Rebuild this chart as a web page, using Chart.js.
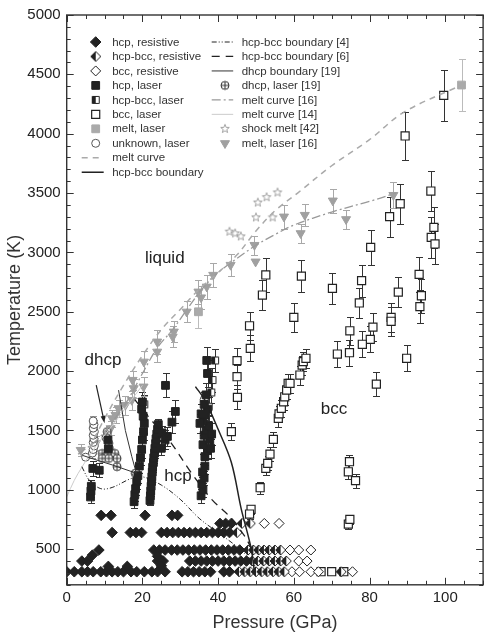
<!DOCTYPE html>
<html>
<head>
<meta charset="utf-8">
<script src="https://cdn.jsdelivr.net/npm/chart.js@4.4.1/dist/chart.umd.min.js"></script>
<style>
  html, body { margin: 0; padding: 0; background: #fff; }
  canvas { display: block; }
</style>
</head>
<body>
<canvas id="chart" width="490" height="634"></canvas>
<script>
// pressure in GPa, temperature in K
const xTicks = [0, 20, 40, 60, 80, 100];
const yTicks = [500, 1000, 1500, 2000, 2500, 3000, 3500, 4000, 4500, 5000];

// resistive heating runs sit on fixed temperature rows
const resRowT = [310, 400, 493, 640, 717, 785];
const hcpResRows = [
  [0, 2, 4, 5.5, 7, 9, 10.5, 12, 13.5, 15, 17, 18.5, 20.5, 22.5, 24, 26, 30.5, 32, 33.5, 35, 36.5, 38, 41.5, 43],
  [4, 5.5, 24, 25.5, 32.5, 34, 35.5, 37, 38.5, 40, 41.5, 43, 44.5, 46, 47.5],
  [8.5, 23, 24.5, 26, 27.7, 29.2, 30.7, 32.2, 33.7, 35.2, 36.7, 38.2, 39.7, 41.2, 42.7, 44.2, 45.7],
  [12, 16.8, 18.3, 19.8, 25, 26.5, 28, 29.5, 31, 32.5, 34, 35.5, 37, 38.5, 40, 41.5, 43],
  [40.5, 42, 43.5],
  [9.1, 11.7, 20.7, 27.8, 29.3]
];
const hcpResExtra = [[11, 355], [16, 355], [25, 360], [24, 440], [6.8, 450]];
const mixResRows = [
  [45.5, 47, 48.5, 50, 51.5, 53, 54.5, 56, 57.5, 72.5],
  [49, 50.5, 52, 53.5, 55, 56.5, 58],
  [47.9, 49.3, 50.7, 52.1, 53.5, 55, 56.5],
  [45],
  [46.3, 48.5],
  []
];
const bccResRows = [
  [59.5, 61.5, 64.5, 66.5, 75.5],
  [61.3, 63.5],
  [59, 61.3, 64.5],
  [],
  [52.2, 56.1],
  []
];

// laser heating runs: [P, T, error]
const hcpLaser = [
  [6.3, 940, 50], [6.4, 990, 50], [6.5, 1030, 50], [6.9, 1180, 60], [8.6, 1165, 60], [10.9, 1420, 80], [11.0, 1345, 70],
  [17.8, 900, 50], [18.0, 960, 50], [18.2, 1010, 50], [18.5, 1070, 60], [18.8, 1120, 60], [19.2, 1200, 60], [19.5, 1270, 60],
  [19.8, 1340, 70], [20.0, 1420, 70], [20.3, 1490, 70], [20.5, 1560, 80], [20.2, 1620, 80], [19.8, 1680, 80], [20.0, 1740, 80],
  [26.1, 1880, 100],
  [22.0, 910, 40], [22.1, 950, 40], [22.2, 990, 40], [22.3, 1030, 40], [22.4, 1070, 40], [22.5, 1110, 40], [22.6, 1150, 40],
  [22.7, 1190, 40], [22.9, 1230, 40], [23.0, 1270, 40], [23.2, 1310, 40], [23.3, 1350, 40], [23.5, 1390, 50], [23.6, 1430, 50],
  [23.8, 1470, 50], [24.0, 1510, 50], [24.2, 1550, 50],
  [25.2, 1480, 60], [26.0, 1420, 80], [26.6, 1450, 80], [27.8, 1570, 90], [28.7, 1660, 100], [25.0, 1350, 60],
  [35.5, 950, 60], [36.0, 1000, 60], [35.7, 1050, 60], [36.3, 1100, 60], [35.9, 1150, 70], [36.5, 1200, 70],
  [36.5, 1280, 70], [37.2, 1330, 70], [36.0, 1380, 80], [37.8, 1420, 80], [36.3, 1460, 80], [36.8, 1500, 90], [37.5, 1540, 90],
  [36.0, 1580, 90], [36.5, 1630, 90], [37.2, 1680, 100], [36.3, 1720, 100], [36.8, 1800, 100], [37.2, 1980, 110], [37.0, 2090, 110],
  [38.0, 1350, 80], [38.3, 1470, 90], [35.2, 1560, 80], [35.5, 1640, 80]
];
const mixLaser = [[39.2, 2090, 100], [38.5, 1925, 100], [38.2, 1820, 90], [20.5, 1720, 80], [37.5, 1700, 80]];
const bccLaser = [
  [62.0, 2800, 135], [60.0, 2453, 120], [70.2, 2697, 130], [80.3, 3043, 150], [77.9, 2762, 135], [77.3, 2574, 130],
  [85.3, 3301, 170], [88.1, 3410, 170], [96.2, 3517, 170], [97.0, 3211, 170], [96.3, 3127, 170], [97.3, 3071, 170],
  [93.1, 2815, 145], [93.7, 2635, 145], [93.3, 2543, 140], [87.6, 2666, 130], [85.7, 2453, 120], [85.7, 2420, 120],
  [80.9, 2371, 120], [80.2, 2268, 110], [78.1, 2226, 110], [74.8, 2340, 120], [74.7, 2155, 110], [71.5, 2144, 110],
  [89.8, 2108, 110], [81.8, 1891, 100], [89.4, 3981, 200], [99.6, 4323, 215],
  [52.6, 2810, 140], [51.7, 2641, 130], [48.3, 2382, 120], [48.5, 2192, 110], [45.0, 2088, 110], [45.0, 1953, 100],
  [45.1, 1779, 100], [43.5, 1490, 70],
  [51.1, 1018, 50], [52.6, 1181, 60], [53.1, 1223, 60], [53.7, 1301, 60], [54.6, 1425, 60], [55.9, 1602, 70],
  [56.1, 1640, 70], [56.7, 1687, 70], [57.3, 1742, 70], [57.6, 1784, 70], [58.1, 1841, 80], [58.5, 1897, 80],
  [59.0, 1897, 80], [61.6, 1967, 80], [62.2, 2051, 80], [62.5, 2080, 80], [63.2, 2108, 80],
  [48.7, 836, 40], [48.3, 796, 40], [74.4, 712, 40], [74.8, 751, 40], [74.4, 1152, 60], [74.7, 1237, 60], [76.3, 1077, 60],
  [67.2, 310, 0], [70.0, 310, 0], [73.2, 310, 0]
];
const meltLaser = [[34.8, 2500, 135], [104.3, 4410, 222]];
const unknownLaser = [
  [6.8, 1310, 40], [7.0, 1340, 40], [7.3, 1370, 40], [7.0, 1400, 40], [7.2, 1430, 40], [7.0, 1460, 40],
  [7.3, 1490, 40], [7.0, 1520, 40], [7.2, 1550, 40], [7.0, 1580, 40], [5.0, 1275, 0], [18.3, 1140, 0], [36.3, 1760, 0]
];
const meltLaser16 = [
  [3.7, 1335, 50], [7.7, 1392, 60], [11.6, 1518, 60], [12.0, 1602, 70], [12.9, 1630, 70], [13.7, 1687, 70],
  [15.5, 1714, 80], [17.2, 1756, 80], [17.7, 1855, 80], [17.4, 1925, 80], [20.3, 1869, 80], [20.4, 2079, 90],
  [23.9, 2163, 90], [23.9, 2248, 100], [28.0, 2290, 90], [28.3, 2332, 90], [31.7, 2500, 90], [34.8, 2669, 100],
  [35.5, 2620, 100], [37.0, 2711, 100], [38.7, 2810, 100], [43.3, 2894, 90], [49.6, 3062, 80], [49.9, 2922, 0],
  [57.4, 3301, 100], [61.8, 3161, 80], [62.9, 3315, 90], [70.3, 3436, 100], [73.8, 3279, 80], [86.3, 3483, 110]
];
const dhcpLaser = [
  [10.7, 1490], [10.4, 1440], [11.1, 1392], [11.3, 1345], [9.4, 1307], [10.8, 1307], [12.7, 1307],
  [13.3, 1265], [9.4, 1265], [11.1, 1265], [13.3, 1195], [18.1, 1139]
];
const shockMelt = [[43.0, 3175], [44.5, 3160], [46.0, 3135], [50.0, 3295], [54.4, 3295], [50.5, 3420], [52.8, 3465], [55.7, 3505]];

// curves
const meltCurveP = [6, 10, 15, 20, 25, 30, 35, 40, 45, 50, 55, 61, 70, 80, 89, 104.3];
const meltCurveT = [1350, 1600, 1880, 2130, 2350, 2520, 2690, 2830, 2980, 3180, 3350, 3500, 3730, 3950, 4180, 4410];
const melt16P = [3, 8, 12, 16, 20, 24, 28, 32, 36, 40, 45, 50, 55, 60, 70, 80, 87];
const melt16T = [1300, 1420, 1570, 1750, 1980, 2200, 2350, 2530, 2700, 2830, 2950, 3060, 3150, 3230, 3340, 3430, 3500];
const melt14P = [0, 2, 4, 6, 8, 10, 13, 16, 20];
const melt14T = [940, 1080, 1190, 1290, 1380, 1460, 1580, 1710, 1880];
const hcpBccP = [34, 36.5, 40, 43.5, 46.1, 48.7, 49.6];
const hcpBccT = [1870, 1756, 1510, 1230, 840, 510, 310];
const hcpBcc4P = [4, 6, 9, 12, 17, 20, 25, 30, 35, 40, 45, 49, 50];
const hcpBcc4T = [1195, 1080, 1010, 1020, 1095, 1110, 1040, 920, 760, 640, 520, 400, 340];
const hcpBcc6P = [18, 22, 27, 33, 38.3, 43.5, 47, 48.6];
const hcpBcc6T = [1760, 1600, 1420, 1140, 920, 760, 610, 520];
const dhcpBoundP = [13.7, 15.5, 17.2, 18.4, 12, 8, 4.2];
const dhcpBoundT = [1840, 1500, 1280, 1140, 1210, 1250, 1290];

// phase labels and the arrow under "dhcp"
const regionText = ['liquid', 'dhcp', 'hcp', 'bcc'];
const regionP = [25.9, 9.6, 29.4, 70.6];
const regionT = [2953, 2090, 1116, 1680];
const arrowP = [7.8, 10.0];
const arrowT = [1883, 1560];

const legendCol1 = ['hcp, resistive', 'hcp-bcc, resistive', 'bcc, resistive', 'hcp, laser', 'hcp-bcc, laser',
  'bcc, laser', 'melt, laser', 'unknown, laser', 'melt curve', 'hcp-bcc boundary'];
const legendCol2 = ['hcp-bcc boundary [4]', 'hcp-bcc boundary [6]', 'dhcp boundary [19]', 'dhcp, laser [19]',
  'melt curve [16]', 'melt curve [14]', 'shock melt [42]', 'melt, laser [16]'];

const FONT = "'Liberation Sans', Arial, Helvetica, sans-serif";
const INK = '#222';

// --- custom markers ---
function marker(kind) {
  const s = 14, m = s / 2;
  const c = document.createElement('canvas');
  c.width = s; c.height = s;
  const g = c.getContext('2d');
  g.lineWidth = 1;
  g.strokeStyle = INK;
  if (kind === 'halfDiamond' || kind === 'halfSquare') {
    const path = () => {
      g.beginPath();
      if (kind === 'halfDiamond') {
        g.moveTo(m - 5, m); g.lineTo(m, m - 5); g.lineTo(m + 5, m); g.lineTo(m, m + 5); g.closePath();
      } else {
        g.rect(m - 3.5, m - 3.5, 7, 7);
      }
    };
    path(); g.fillStyle = '#fff'; g.fill();
    g.save(); g.beginPath(); g.rect(0, 0, m, s); g.clip();
    path(); g.fillStyle = INK; g.fill(); g.restore();
    path(); g.stroke();
  } else if (kind === 'crossCircle') {
    g.strokeStyle = '#333';
    g.beginPath(); g.arc(m, m, 4, 0, Math.PI * 2); g.fillStyle = '#fff'; g.fill(); g.stroke();
    g.beginPath(); g.moveTo(m - 4, m); g.lineTo(m + 4, m); g.moveTo(m, m - 4); g.lineTo(m, m + 4); g.stroke();
  } else if (kind === 'star') {
    g.strokeStyle = '#999';
    g.lineWidth = 0.9;
    g.beginPath();
    for (let i = 0; i < 10; i++) {
      const r = i % 2 ? 1.9 : 4.5;
      const a = -Math.PI / 2 + i * Math.PI / 5;
      const px = m + r * Math.cos(a), py = m + r * Math.sin(a);
      i ? g.lineTo(px, py) : g.moveTo(px, py);
    }
    g.closePath(); g.fillStyle = '#fff'; g.fill(); g.stroke();
  }
  return c;
}

const pts = (rows) => rows.flatMap((row, i) => row.map(p => ({ x: p, y: resRowT[i] })));
const xy = (arr) => arr.map(r => ({ x: r[0], y: r[1] }));
const curve = (P, T) => P.map((p, i) => ({ x: p, y: T[i] }));

function markerSet(label, data, style, extra) {
  return Object.assign({
    label, data, pointStyle: style, pointRadius: 5, pointHoverRadius: 5,
    borderWidth: 1, showLine: false, order: 2
  }, extra);
}
function lineSet(label, data, color, width, dash, extra) {
  return Object.assign({
    label, data, showLine: true, pointRadius: 0, pointHoverRadius: 0,
    borderColor: color, borderWidth: width, borderDash: dash, fill: false, tension: 0.35, order: 0
  }, extra);
}

const datasets = [
  markerSet('hcp, resistive', pts(hcpResRows).concat(xy(hcpResExtra)), 'rectRot',
    { backgroundColor: INK, borderColor: INK, pointRadius: 5.3 }),
  markerSet('hcp-bcc, resistive', pts(mixResRows), marker('halfDiamond'), {}),
  markerSet('bcc, resistive', pts(bccResRows), 'rectRot',
    { backgroundColor: '#fff', borderColor: INK, pointRadius: 5 }),
  markerSet('hcp, laser', xy(hcpLaser), 'rect',
    { backgroundColor: INK, borderColor: INK, pointRadius: 5.5, errs: hcpLaser.map(r => r[2]), errColor: '#333' }),
  markerSet('hcp-bcc, laser', xy(mixLaser), marker('halfSquare'),
    { errs: mixLaser.map(r => r[2]), errColor: '#333' }),
  markerSet('bcc, laser', xy(bccLaser), 'rect',
    { backgroundColor: '#fff', borderColor: INK, borderWidth: 1.2, pointRadius: 5.7, errs: bccLaser.map(r => r[2]), errColor: '#333' }),
  markerSet('melt, laser', xy(meltLaser), 'rect',
    { backgroundColor: '#aaa', borderColor: '#aaa', pointRadius: 5.5, errs: meltLaser.map(r => r[2]), errColor: '#bbb' }),
  markerSet('unknown, laser', xy(unknownLaser), 'circle',
    { backgroundColor: '#fff', borderColor: '#555', pointRadius: 4, errs: unknownLaser.map(r => r[2]), errColor: '#999' }),
  markerSet('dhcp, laser [19]', xy(dhcpLaser), marker('crossCircle'), {}),
  markerSet('shock melt [42]', xy(shockMelt), marker('star'), {}),
  markerSet('melt, laser [16]', xy(meltLaser16), 'triangle',
    { backgroundColor: '#a0a0a0', borderColor: '#a0a0a0', pointRadius: 5.2, pointRotation: 180,
      errs: meltLaser16.map(r => r[2]), errColor: '#a8a8a8' }),
  lineSet('melt curve', curve(meltCurveP, meltCurveT), '#aaa', 1.5, [6, 5]),
  lineSet('hcp-bcc boundary', curve(hcpBccP, hcpBccT), INK, 1.5, []),
  lineSet('hcp-bcc boundary [4]', curve(hcpBcc4P, hcpBcc4T), INK, 1, [5, 2, 1, 2, 1, 2]),
  lineSet('hcp-bcc boundary [6]', curve(hcpBcc6P, hcpBcc6T), INK, 1.3, [8, 6]),
  lineSet('dhcp boundary [19]', curve(dhcpBoundP, dhcpBoundT), '#333', 1, [], { tension: 0 }),
  lineSet('melt curve [16]', curve(melt16P, melt16T), '#999', 1.3, [9, 3, 2, 3]),
  lineSet('melt curve [14]', curve(melt14P, melt14T), '#ccc', 1, [])
];

function findSet(chart, label) {
  return chart.data.datasets.find(d => d.label === label);
}

const overlay = {
  id: 'overlay',
  beforeDatasetsDraw(chart) {
    const { ctx, chartArea: a, scales: { x, y } } = chart;
    ctx.save();
    ctx.beginPath(); ctx.rect(a.left, a.top, a.right - a.left, a.bottom - a.top); ctx.clip();
    ctx.lineWidth = 1;
    chart.data.datasets.forEach(ds => {
      if (!ds.errs) return;
      ctx.strokeStyle = ds.errColor;
      ds.data.forEach((p, i) => {
        const e = ds.errs[i];
        if (!e) return;
        const px = Math.round(x.getPixelForValue(p.x)) + 0.5;
        const y1 = Math.round(y.getPixelForValue(p.y - e)) + 0.5;
        const y2 = Math.round(y.getPixelForValue(p.y + e)) + 0.5;
        ctx.beginPath();
        ctx.moveTo(px, y1); ctx.lineTo(px, y2);
        ctx.moveTo(px - 3.5, y1); ctx.lineTo(px + 3.5, y1);
        ctx.moveTo(px - 3.5, y2); ctx.lineTo(px + 3.5, y2);
        ctx.stroke();
      });
    });
    ctx.restore();
  },
  afterDraw(chart) {
    const { ctx, chartArea: a, scales: { x, y } } = chart;
    ctx.save();

    // frame and inward ticks on all sides
    ctx.strokeStyle = '#333';
    ctx.lineWidth = 1;
    ctx.beginPath();
    for (let v = 0; v <= 110; v += 5) {
      const px = Math.round(x.getPixelForValue(v)) + 0.5;
      const len = v % 20 === 0 ? 7 : 4;
      ctx.moveTo(px, a.bottom); ctx.lineTo(px, a.bottom - len);
      ctx.moveTo(px, a.top); ctx.lineTo(px, a.top + len);
    }
    for (let v = 200; v <= 5000; v += 100) {
      const py = Math.round(y.getPixelForValue(v)) + 0.5;
      const len = v % 500 === 0 ? 7 : 4;
      ctx.moveTo(a.left, py); ctx.lineTo(a.left + len, py);
      ctx.moveTo(a.right, py); ctx.lineTo(a.right - len, py);
    }
    ctx.stroke();
    ctx.lineWidth = 1.4;
    ctx.strokeRect(a.left, a.top, a.right - a.left, a.bottom - a.top);

    // phase labels
    ctx.fillStyle = '#222';
    ctx.font = '17px ' + FONT;
    ctx.textAlign = 'center';
    ctx.textBaseline = 'middle';
    regionText.forEach((t, i) => {
      ctx.fillText(t, x.getPixelForValue(regionP[i]), y.getPixelForValue(regionT[i]));
    });

    // arrow from the dhcp label
    const ax0 = x.getPixelForValue(arrowP[0]), ay0 = y.getPixelForValue(arrowT[0]);
    const ax1 = x.getPixelForValue(arrowP[1]), ay1 = y.getPixelForValue(arrowT[1]);
    const ang = Math.atan2(ay1 - ay0, ax1 - ax0);
    ctx.strokeStyle = '#222';
    ctx.lineWidth = 1.2;
    ctx.beginPath(); ctx.moveTo(ax0, ay0); ctx.lineTo(ax1 - 5 * Math.cos(ang), ay1 - 5 * Math.sin(ang)); ctx.stroke();
    ctx.beginPath();
    ctx.moveTo(ax1, ay1);
    ctx.lineTo(ax1 - 8 * Math.cos(ang - 0.3), ay1 - 8 * Math.sin(ang - 0.3));
    ctx.lineTo(ax1 - 8 * Math.cos(ang + 0.3), ay1 - 8 * Math.sin(ang + 0.3));
    ctx.closePath(); ctx.fillStyle = '#222'; ctx.fill();

    // legend, two columns in the top left corner
    const rowY = (i) => a.top + 27 + i * 14.47;
    const item = (label, mx, lx0, lx1, tx, ty) => {
      const ds = findSet(chart, label);
      ctx.save();
      if (ds.showLine) {
        ctx.strokeStyle = ds.borderColor;
        ctx.lineWidth = ds.borderWidth;
        ctx.setLineDash(ds.borderDash || []);
        ctx.beginPath(); ctx.moveTo(lx0, ty); ctx.lineTo(lx1, ty); ctx.stroke();
      } else {
        ctx.fillStyle = ds.backgroundColor || '#fff';
        ctx.strokeStyle = ds.borderColor || INK;
        ctx.lineWidth = ds.borderWidth;
        Chart.helpers.drawPoint(ctx, {
          pointStyle: ds.pointStyle, radius: ds.pointRadius,
          rotation: ds.pointRotation || 0, borderWidth: ds.borderWidth
        }, mx, ty);
      }
      ctx.restore();
      ctx.fillStyle = '#333';
      ctx.font = '11.5px ' + FONT;
      ctx.textAlign = 'left';
      ctx.textBaseline = 'middle';
      ctx.fillText(label, tx, ty + 0.5);
    };
    legendCol1.forEach((l, i) => item(l, a.left + 29, a.left + 15, a.left + 37, a.left + 45.5, rowY(i)));
    legendCol2.forEach((l, i) => item(l, a.left + 158.3, a.left + 145, a.left + 166.5, a.left + 175, rowY(i)));

    ctx.restore();
  }
};

new Chart(document.getElementById('chart').getContext('2d'), {
  type: 'scatter',
  data: { datasets },
  options: {
    responsive: false,
    animation: false,
    events: [],
    layout: { padding: { top: 15, right: 2.3, left: 0, bottom: 0 } },
    plugins: { legend: { display: false }, tooltip: { enabled: false } },
    scales: {
      x: {
        type: 'linear', min: 0, max: 110,
        afterBuildTicks: (s) => { s.ticks = xTicks.map(v => ({ value: v })); },
        afterFit: (s) => { s.height = 49.2; },
        grid: { display: false, drawTicks: false },
        border: { display: false },
        ticks: { color: '#222', font: { family: FONT, size: 15 }, padding: 4, maxRotation: 0, autoSkip: false,
          callback: (v) => String(v) },
        title: { display: true, text: 'Pressure (GPa)', color: '#333', font: { family: FONT, size: 18 }, padding: { top: 0, bottom: 0 } }
      },
      y: {
        type: 'linear', min: 200, max: 5000,
        afterBuildTicks: (s) => { s.ticks = yTicks.map(v => ({ value: v })); },
        afterFit: (s) => { s.width = 66.7; },
        grid: { display: false, drawTicks: false },
        border: { display: false },
        ticks: { color: '#222', font: { family: FONT, size: 15 }, padding: 6, autoSkip: false,
          callback: (v) => String(v) },
        title: { display: true, text: 'Temperature (K)', color: '#333', font: { family: FONT, size: 18 }, padding: { top: 4, bottom: 0 } }
      }
    }
  },
  plugins: [overlay]
});
</script>
</body>
</html>
